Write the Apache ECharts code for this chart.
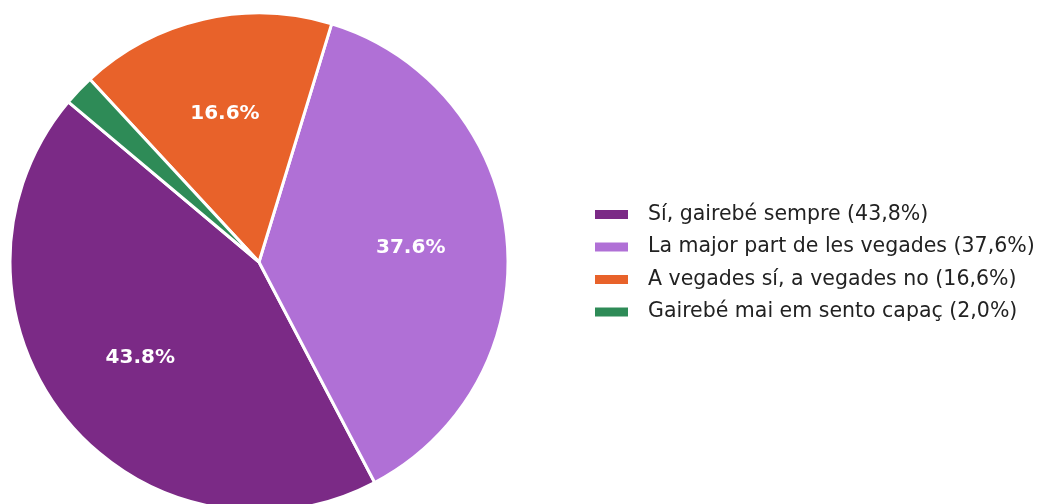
<!DOCTYPE html>
<html>
<head>
<meta charset="utf-8">
<script src="https://cdn.jsdelivr.net/npm/echarts@6/dist/echarts.min.js"></script>
<style>html,body{margin:0;padding:0;background:#fff;}#c{width:1037px;height:504px;}</style>
</head>
<body>
<div id="c"></div>
<script>
const categories = ['Sí, gairebé sempre', 'La major part de les vegades', 'A vegades sí, a vegades no', 'Gairebé mai em sento capaç'];
const values = [43.8, 37.6, 16.6, 2.0];
const legendLabels = ['Sí, gairebé sempre (43,8%)', 'La major part de les vegades (37,6%)', 'A vegades sí, a vegades no (16,6%)', 'Gairebé mai em sento capaç (2,0%)'];
const colors = ['#7B2A86', '#B070D6', '#E8622A', '#2E8B57'];

const chart = echarts.init(document.getElementById('c'), null, {renderer: 'canvas'});
const data = categories.map((c, i) => ({name: legendLabels[i], value: values[i], itemStyle: {color: colors[i]}}));
const R = 249;
chart.setOption({
  animation: false,
  color: colors,
  legend: {
    orient: 'vertical',
    left: 593,
    top: 204,
    padding: 0,
    itemWidth: 35,
    itemHeight: 11,
    itemGap: 11.5,
    icon: 'rect',
    textStyle: {fontFamily: 'DejaVu Sans', fontSize: 20.5, color: '#222', lineHeight: 20, padding: [0, 0, 0, 14]},
    data: legendLabels
  },
  series: [
    {
      type: 'pie',
      center: [259, 262],
      radius: [0, R],
      startAngle: 140,
      clockwise: false,
      silent: true,
      label: {show: false},
      labelLine: {show: false},
      itemStyle: {borderColor: '#fff', borderWidth: 3},
      data: data
    },
    {
      type: 'pie',
      center: [259, 262],
      radius: [0.2 * R, R],
      startAngle: 140,
      clockwise: false,
      silent: true,
      legendHoverLink: false,
      itemStyle: {color: 'rgba(0,0,0,0)', borderWidth: 0},
      label: {
        show: true,
        position: 'inside',
        formatter: p => values[p.dataIndex] >= 5 ? values[p.dataIndex].toFixed(1) + '%' : '',
        color: '#fff',
        fontFamily: 'DejaVu Sans',
        fontWeight: 'bold',
        fontSize: 20
      },
      labelLine: {show: false},
      data: categories.map((c, i) => ({name: 'lbl' + i, value: values[i]})),
      emphasis: {disabled: true}
    }
  ]
});
</script>
</body>
</html>
